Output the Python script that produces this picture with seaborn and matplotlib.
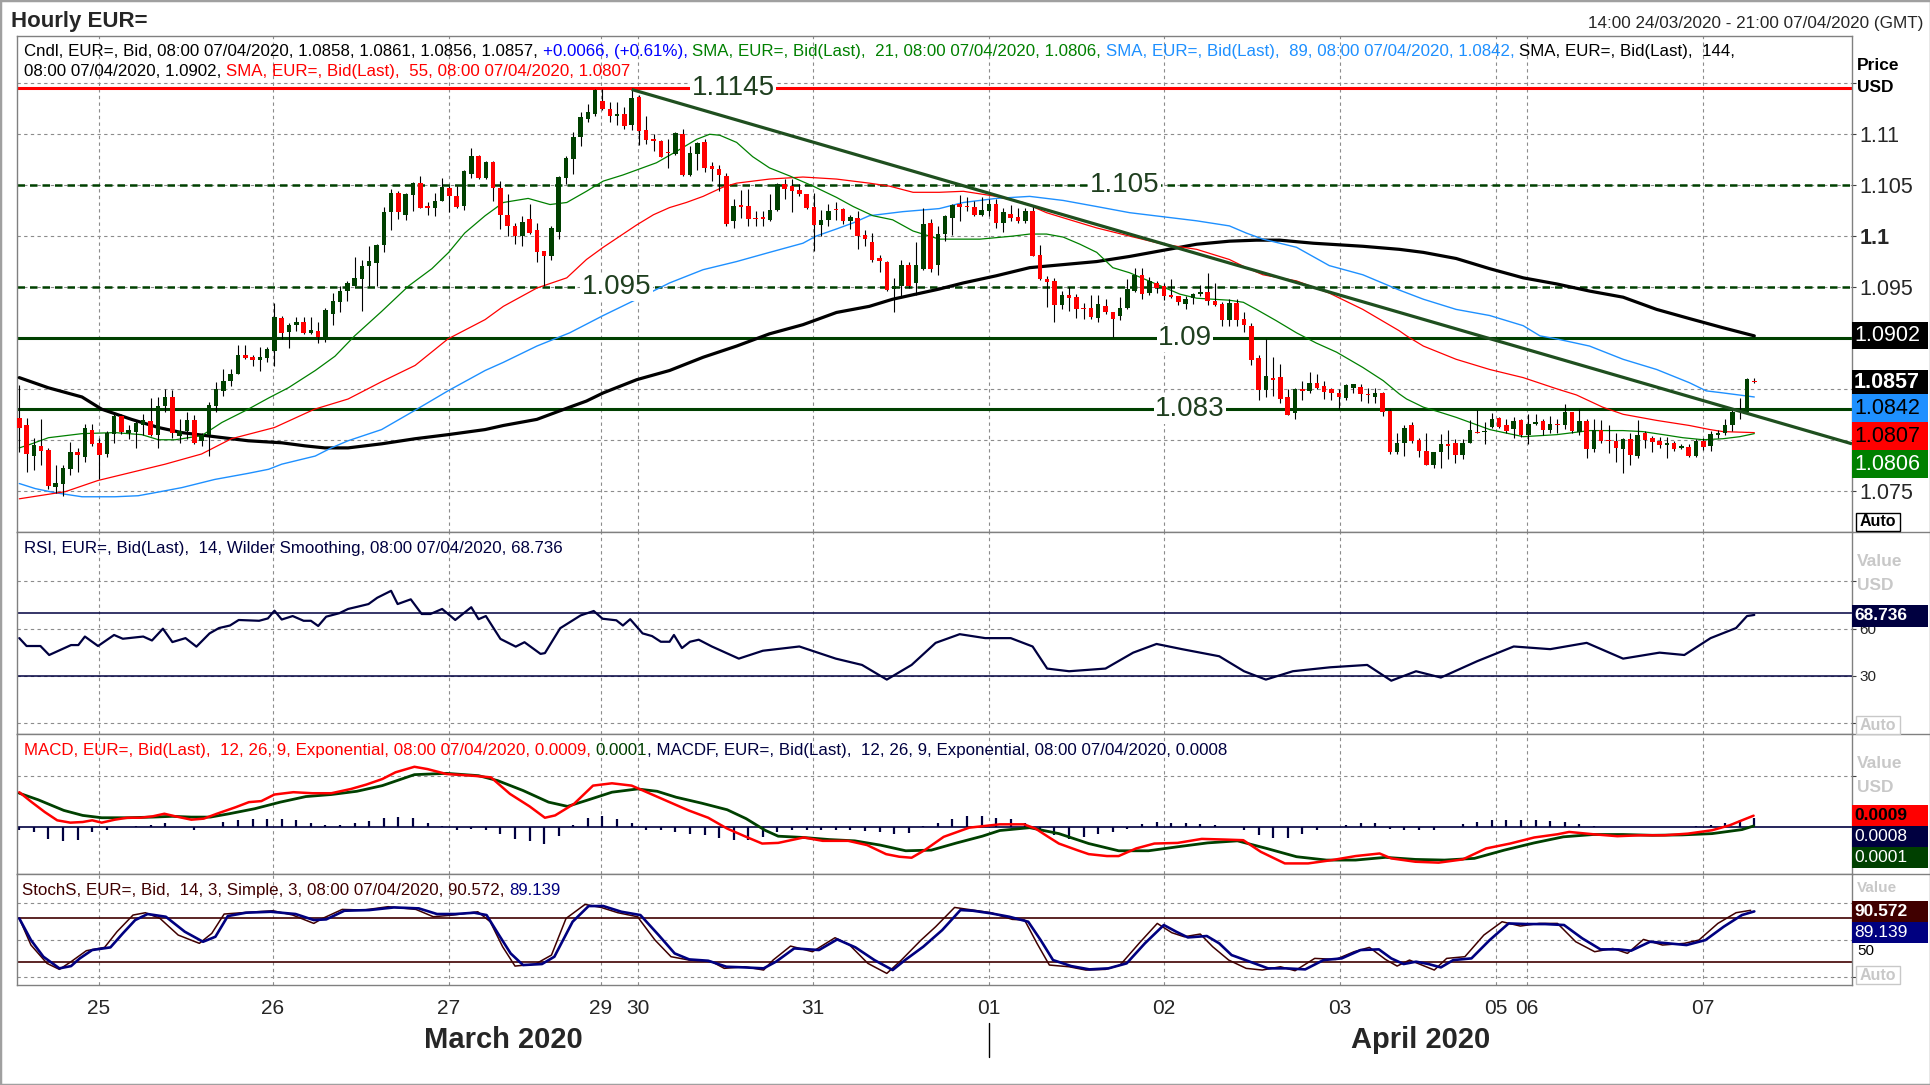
import numpy as np
import matplotlib
matplotlib.use("Agg")
import matplotlib.pyplot as plt
import seaborn as sns
from matplotlib.patches import Rectangle
from matplotlib.lines import Line2D

# ============================================
# Data (hourly EUR= candles, 14:00 24/03 .. 08:00 07/04)
# ============================================

opens = [
    1.0821, 1.0814, 1.0784, 1.0794, 1.0790, 1.0754, 1.0757, 1.0771, 1.0788, 1.0783,
    1.0810, 1.0797, 1.0786, 1.0806, 1.0823, 1.0807, 1.0808, 1.0814, 1.0818, 1.0805,
    1.0833, 1.0842, 1.0804, 1.0809, 1.0819, 1.0799, 1.0805, 1.0833, 1.0848, 1.0858,
    1.0865, 1.0883, 1.0881, 1.0878, 1.0880, 1.0887, 1.0920, 1.0906, 1.0913, 1.0916,
    1.0905, 1.0907, 1.0898, 1.0923, 1.0935, 1.0946, 1.0951, 1.0958, 1.0971, 1.0974,
    1.0991, 1.1024, 1.1042, 1.1021, 1.1040, 1.1052, 1.1030, 1.1028, 1.1034, 1.1047,
    1.1039, 1.1030, 1.1061, 1.1079, 1.1057, 1.1073, 1.1047, 1.1021, 1.1010, 1.1000,
    1.1017, 1.1006, 1.0985, 1.0980, 1.1004, 1.1057, 1.1076, 1.1097, 1.1115, 1.1120,
    1.1133, 1.1125, 1.1118, 1.1120, 1.1109, 1.1137, 1.1104, 1.1095, 1.1093, 1.1083,
    1.1081, 1.1100, 1.1060, 1.1081, 1.1092, 1.1069, 1.1066, 1.1059, 1.1015, 1.1031,
    1.1030, 1.1018, 1.1019, 1.1016, 1.1026, 1.1051, 1.1049, 1.1045, 1.1041, 1.1029,
    1.1011, 1.1016, 1.1027, 1.1027, 1.1015, 1.1018, 1.1001, 1.0994, 1.0978, 1.0975,
    1.0948, 1.0951, 1.0972, 1.0954, 1.0968, 1.1013, 1.0972, 1.1002, 1.1018, 1.1032,
    1.1030, 1.1029, 1.1021, 1.1025, 1.1032, 1.1013, 1.1022, 1.1019, 1.1015, 1.1025,
    1.0981, 1.0958, 1.0956, 1.0932, 1.0942, 1.0940, 1.0929, 1.0929, 1.0920, 1.0931,
    1.0925, 1.0922, 1.0929, 1.0946, 1.0962, 1.0944, 1.0954, 1.0951, 1.0942, 1.0941,
    1.0933, 1.0939, 1.0943, 1.0945, 1.0936, 1.0933, 1.0918, 1.0934, 1.0919, 1.0912,
    1.0880, 1.0849, 1.0861, 1.0862, 1.0842, 1.0826, 1.0850, 1.0848, 1.0856, 1.0853,
    1.0850, 1.0846, 1.0841, 1.0851, 1.0852, 1.0845, 1.0842, 1.0846, 1.0828, 1.0788,
    1.0797, 1.0814, 1.0800, 1.0789, 1.0775, 1.0788, 1.0796, 1.0797, 1.0785, 1.0797,
    1.0808, 1.0808, 1.0813, 1.0821, 1.0814, 1.0811, 1.0819, 1.0805, 1.0815, 1.0818,
    1.0810, 1.0815, 1.0814, 1.0827, 1.0808, 1.0818, 1.0791, 1.0810, 1.0800, 1.0799,
    1.0791, 1.0801, 1.0784, 1.0807, 1.0802, 1.0799, 1.0795, 1.0797, 1.0792, 1.0793,
    1.0784, 1.0799, 1.0794, 1.0805, 1.0807, 1.0814, 1.0827, 1.0827, 1.0858,
]
highs = [
    1.0854, 1.0821, 1.0802, 1.0820, 1.0792, 1.0775, 1.0775, 1.0798, 1.0792, 1.0815,
    1.0815, 1.0802, 1.0809, 1.0825, 1.0825, 1.0814, 1.0819, 1.0825, 1.0841, 1.0842,
    1.0850, 1.0849, 1.0820, 1.0827, 1.0824, 1.0807, 1.0837, 1.0857, 1.0869, 1.0869,
    1.0893, 1.0893, 1.0883, 1.0891, 1.0891, 1.0934, 1.0922, 1.0915, 1.0921, 1.0921,
    1.0921, 1.0916, 1.0929, 1.0944, 1.0951, 1.0956, 1.0979, 1.0977, 1.0990, 1.0992,
    1.1029, 1.1046, 1.1044, 1.1042, 1.1053, 1.1059, 1.1033, 1.1042, 1.1057, 1.1049,
    1.1049, 1.1065, 1.1087, 1.1080, 1.1074, 1.1074, 1.1054, 1.1041, 1.1013, 1.1020,
    1.1032, 1.1013, 1.0985, 1.1010, 1.1059, 1.1079, 1.1102, 1.1122, 1.1130, 1.1144,
    1.1144, 1.1132, 1.1132, 1.1127, 1.1144, 1.1139, 1.1118, 1.1100, 1.1094, 1.1095,
    1.1102, 1.1105, 1.1088, 1.1092, 1.1095, 1.1073, 1.1070, 1.1062, 1.1036, 1.1045,
    1.1046, 1.1025, 1.1025, 1.1041, 1.1052, 1.1056, 1.1056, 1.1051, 1.1041, 1.1042,
    1.1026, 1.1032, 1.1033, 1.1028, 1.1021, 1.1025, 1.1006, 1.1003, 1.0981, 1.0976,
    1.0959, 1.0977, 1.0975, 1.0994, 1.1028, 1.1017, 1.1010, 1.1021, 1.1032, 1.1040,
    1.1038, 1.1034, 1.1038, 1.1036, 1.1036, 1.1028, 1.1031, 1.1028, 1.1028, 1.1030,
    1.0991, 1.0961, 1.0959, 1.0946, 1.0950, 1.0943, 1.0934, 1.0942, 1.0942, 1.0938,
    1.0925, 1.0940, 1.0958, 1.0969, 1.0969, 1.0960, 1.0956, 1.0954, 1.0958, 1.0941,
    1.0941, 1.0944, 1.0952, 1.0964, 1.0954, 1.0935, 1.0938, 1.0938, 1.0925, 1.0915,
    1.0883, 1.0899, 1.0881, 1.0874, 1.0850, 1.0851, 1.0858, 1.0867, 1.0865, 1.0858,
    1.0851, 1.0850, 1.0855, 1.0855, 1.0855, 1.0851, 1.0851, 1.0847, 1.0830, 1.0807,
    1.0814, 1.0817, 1.0802, 1.0807, 1.0788, 1.0806, 1.0810, 1.0801, 1.0801, 1.0819,
    1.0829, 1.0817, 1.0826, 1.0822, 1.0820, 1.0822, 1.0820, 1.0825, 1.0825, 1.0820,
    1.0823, 1.0820, 1.0835, 1.0827, 1.0830, 1.0820, 1.0820, 1.0819, 1.0814, 1.0807,
    1.0802, 1.0807, 1.0819, 1.0809, 1.0804, 1.0803, 1.0803, 1.0799, 1.0796, 1.0796,
    1.0801, 1.0802, 1.0809, 1.0810, 1.0820, 1.0831, 1.0841, 1.0861, 1.0861,
]
lows = [
    1.0788, 1.0768, 1.0770, 1.0775, 1.0752, 1.0748, 1.0745, 1.0765, 1.0768, 1.0778,
    1.0794, 1.0761, 1.0783, 1.0797, 1.0806, 1.0801, 1.0792, 1.0805, 1.0804, 1.0792,
    1.0827, 1.0802, 1.0797, 1.0801, 1.0796, 1.0794, 1.0784, 1.0827, 1.0843, 1.0853,
    1.0865, 1.0879, 1.0872, 1.0868, 1.0876, 1.0872, 1.0899, 1.0890, 1.0907, 1.0904,
    1.0904, 1.0895, 1.0896, 1.0913, 1.0925, 1.0936, 1.0951, 1.0926, 1.0951, 1.0951,
    1.0984, 1.1006, 1.1017, 1.1016, 1.1025, 1.1028, 1.1021, 1.1020, 1.1034, 1.1024,
    1.1028, 1.1026, 1.1057, 1.1056, 1.1056, 1.1034, 1.1007, 1.1000, 1.0992, 1.0990,
    1.1002, 1.0975, 1.0951, 1.0977, 1.0997, 1.1051, 1.1061, 1.1088, 1.1112, 1.1118,
    1.1124, 1.1112, 1.1109, 1.1105, 1.1104, 1.1089, 1.1090, 1.1084, 1.1078, 1.1067,
    1.1080, 1.1059, 1.1059, 1.1065, 1.1063, 1.1054, 1.1044, 1.1010, 1.1008, 1.1018,
    1.1010, 1.1010, 1.1010, 1.1015, 1.1025, 1.1036, 1.1024, 1.1039, 1.1027, 1.0985,
    1.1000, 1.1010, 1.1016, 1.1012, 1.1007, 1.0987, 1.0990, 1.0975, 1.0965, 1.0946,
    1.0925, 1.0941, 1.0949, 1.0942, 1.0967, 1.0965, 1.0962, 1.0995, 1.1001, 1.1015,
    1.1025, 1.1020, 1.1020, 1.1020, 1.1008, 1.1004, 1.1015, 1.1013, 1.1013, 1.0980,
    1.0957, 1.0930, 1.0916, 1.0928, 1.0926, 1.0920, 1.0919, 1.0919, 1.0916, 1.0923,
    1.0901, 1.0918, 1.0928, 1.0945, 1.0938, 1.0942, 1.0944, 1.0937, 1.0939, 1.0932,
    1.0928, 1.0933, 1.0941, 1.0932, 1.0931, 1.0912, 1.0912, 1.0912, 1.0906, 1.0873,
    1.0839, 1.0842, 1.0843, 1.0836, 1.0824, 1.0820, 1.0839, 1.0846, 1.0850, 1.0840,
    1.0839, 1.0830, 1.0839, 1.0846, 1.0838, 1.0836, 1.0836, 1.0823, 1.0786, 1.0786,
    1.0784, 1.0797, 1.0783, 1.0775, 1.0772, 1.0772, 1.0781, 1.0777, 1.0781, 1.0797,
    1.0807, 1.0796, 1.0812, 1.0812, 1.0807, 1.0802, 1.0803, 1.0796, 1.0814, 1.0805,
    1.0807, 1.0807, 1.0811, 1.0807, 1.0805, 1.0782, 1.0788, 1.0797, 1.0787, 1.0778,
    1.0767, 1.0775, 1.0782, 1.0792, 1.0788, 1.0792, 1.0782, 1.0789, 1.0791, 1.0783,
    1.0783, 1.0790, 1.0789, 1.0802, 1.0805, 1.0809, 1.0820, 1.0827, 1.0856,
]
closes = [
    1.0812, 1.0786, 1.0795, 1.0789, 1.0755, 1.0758, 1.0772, 1.0788, 1.0785, 1.0812,
    1.0796, 1.0785, 1.0807, 1.0823, 1.0808, 1.0810, 1.0816, 1.0819, 1.0805, 1.0833,
    1.0842, 1.0807, 1.0809, 1.0819, 1.0797, 1.0805, 1.0834, 1.0850, 1.0858, 1.0865,
    1.0883, 1.0880, 1.0878, 1.0881, 1.0889, 1.0921, 1.0905, 1.0913, 1.0916, 1.0905,
    1.0908, 1.0901, 1.0927, 1.0936, 1.0946, 1.0954, 1.0959, 1.0971, 1.0976, 1.0991,
    1.1024, 1.1042, 1.1024, 1.1041, 1.1052, 1.1028, 1.1028, 1.1034, 1.1048, 1.1039,
    1.1029, 1.1064, 1.1079, 1.1057, 1.1073, 1.1047, 1.1021, 1.1010, 1.1000, 1.1014,
    1.1003, 1.0984, 1.0980, 1.1008, 1.1058, 1.1077, 1.1097, 1.1117, 1.1122, 1.1143,
    1.1125, 1.1118, 1.1120, 1.1108, 1.1136, 1.1103, 1.1094, 1.1093, 1.1078, 1.1082,
    1.1101, 1.1060, 1.1082, 1.1091, 1.1067, 1.1066, 1.1060, 1.1012, 1.1030, 1.1029,
    1.1017, 1.1017, 1.1017, 1.1026, 1.1051, 1.1046, 1.1044, 1.1041, 1.1028, 1.1011,
    1.1016, 1.1025, 1.1026, 1.1015, 1.1019, 1.1000, 1.0997, 1.0977, 1.0976, 1.0947,
    1.0951, 1.0972, 1.0951, 1.0972, 1.1012, 1.0968, 1.1002, 1.1020, 1.1031, 1.1029,
    1.1029, 1.1021, 1.1026, 1.1032, 1.1013, 1.1024, 1.1018, 1.1015, 1.1025, 1.0980,
    1.0958, 1.0955, 1.0932, 1.0942, 1.0939, 1.0928, 1.0928, 1.0921, 1.0933, 1.0925,
    1.0919, 1.0929, 1.0948, 1.0962, 1.0943, 1.0956, 1.0949, 1.0941, 1.0940, 1.0935,
    1.0938, 1.0943, 1.0945, 1.0936, 1.0932, 1.0918, 1.0934, 1.0918, 1.0913, 1.0878,
    1.0849, 1.0863, 1.0859, 1.0840, 1.0824, 1.0850, 1.0848, 1.0856, 1.0851, 1.0847,
    1.0846, 1.0842, 1.0854, 1.0855, 1.0845, 1.0844, 1.0846, 1.0827, 1.0788, 1.0797,
    1.0812, 1.0799, 1.0789, 1.0775, 1.0788, 1.0796, 1.0794, 1.0785, 1.0797, 1.0810,
    1.0807, 1.0809, 1.0820, 1.0813, 1.0809, 1.0818, 1.0805, 1.0815, 1.0817, 1.0810,
    1.0815, 1.0814, 1.0827, 1.0809, 1.0818, 1.0791, 1.0810, 1.0799, 1.0799, 1.0792,
    1.0801, 1.0785, 1.0805, 1.0800, 1.0798, 1.0795, 1.0797, 1.0791, 1.0794, 1.0784,
    1.0799, 1.0793, 1.0806, 1.0807, 1.0814, 1.0827, 1.0828, 1.0860, 1.0857,
]

# moving averages: (candle index, price)
sma21 = [(0, 1.0792), (1.7, 1.0796), (4.0, 1.0802), (8.6, 1.0806), (13.1, 1.0807), (16.8, 1.0805),
         (19.1, 1.0800), (21.4, 1.0800), (25.0, 1.0804), (27.8, 1.0817), (31.4, 1.0830), (34.2, 1.0841),
         (36.9, 1.0851), (40.6, 1.0868), (43.3, 1.0882), (46.0, 1.0902), (49.7, 1.0926), (53.4, 1.0951),
         (56.6, 1.0968), (58.9, 1.0984), (61.1, 1.1003), (63.9, 1.1020), (66.4, 1.1033), (69.8, 1.1037),
         (72.8, 1.1031), (75.1, 1.1033), (77.8, 1.1044), (80.1, 1.1054), (82.8, 1.1060), (85.1, 1.1066),
         (87.4, 1.1072), (90.1, 1.1083), (92.9, 1.1095), (94.7, 1.1100), (96.1, 1.1099), (98.4, 1.1092),
         (100.6, 1.1078), (102.9, 1.1067), (105.7, 1.1059), (108.9, 1.1049), (112.1, 1.1038), (114.4, 1.1029),
         (117.1, 1.1020), (119.8, 1.1016), (122.6, 1.1005), (126.2, 1.0997), (131.8, 1.0997), (136.3, 1.1000),
         (138.6, 1.1002), (140.9, 1.1002), (143.2, 1.0999), (145.5, 1.0992), (147.8, 1.0984), (150.0, 1.0969),
         (152.3, 1.0964), (156.9, 1.0950), (159.2, 1.0943), (161.5, 1.0939), (166.0, 1.0937), (167.9, 1.0935),
         (169.7, 1.0928), (172.4, 1.0917), (175.2, 1.0905), (177.9, 1.0895), (180.7, 1.0886), (184.3, 1.0871),
         (187.1, 1.0858), (189.3, 1.0845), (190.3, 1.0840), (192.6, 1.0832), (194.9, 1.0827), (197.1, 1.0822),
         (199.4, 1.0816), (201.7, 1.0810), (206.3, 1.0803), (210.9, 1.0805), (215.4, 1.0809), (220.0, 1.0809),
         (222.7, 1.0808), (225.5, 1.0805), (228.2, 1.0802), (231.0, 1.0800), (233.7, 1.0801), (236.0, 1.0803),
         (238.0, 1.0806)]
sma55 = [(0, 1.0742), (6.3, 1.0749), (10.8, 1.0760), (15.4, 1.0768), (20.0, 1.0776), (25.0, 1.0786),
         (29.1, 1.0801), (35.0, 1.0812), (40.5, 1.0830), (45.1, 1.0840), (49.7, 1.0857), (54.3, 1.0873),
         (58.8, 1.0899), (63.9, 1.0918), (66.4, 1.0931), (71.0, 1.0949), (75.1, 1.0959), (77.8, 1.0977),
         (80.1, 1.0989), (82.4, 1.1000), (84.7, 1.1011), (87.0, 1.1021), (89.2, 1.1028), (91.5, 1.1033),
         (93.8, 1.1039), (96.5, 1.1048), (98.4, 1.1052), (102.9, 1.1056), (107.5, 1.1058), (112.1, 1.1056),
         (116.6, 1.1052), (119.4, 1.1049), (122.6, 1.1043), (126.2, 1.1043), (129.5, 1.1044), (134.0, 1.1039),
         (137.7, 1.1033), (140.9, 1.1023), (144.1, 1.1016), (147.8, 1.1008), (152.3, 1.1000), (156.9, 1.0992),
         (161.5, 1.0987), (166.0, 1.0977), (168.3, 1.0969), (170.6, 1.0962), (175.2, 1.0956), (179.7, 1.0944),
         (184.3, 1.0928), (189.3, 1.0907), (190.3, 1.0902), (192.6, 1.0892), (197.1, 1.0879), (201.7, 1.0869),
         (206.3, 1.0861), (210.9, 1.0850), (213.6, 1.0844), (217.2, 1.0832), (220.0, 1.0825), (224.6, 1.0819),
         (229.1, 1.0814), (231.9, 1.0810), (233.7, 1.0808), (238.0, 1.0807)]
sma89 = [(0, 1.0757), (2.2, 1.0752), (4.9, 1.0748), (8.6, 1.0744), (13.1, 1.0744), (16.3, 1.0745),
         (18.6, 1.0748), (22.3, 1.0753), (26.8, 1.0761), (31.4, 1.0767), (34.2, 1.0771), (36.0, 1.0776),
         (40.6, 1.0784), (42.8, 1.0792), (45.1, 1.0799), (49.7, 1.0810), (54.3, 1.0829), (58.8, 1.0848),
         (63.9, 1.0868), (66.4, 1.0876), (71.0, 1.0892), (75.5, 1.0905), (80.1, 1.0922), (84.7, 1.0938),
         (89.2, 1.0954), (93.8, 1.0967), (98.4, 1.0975), (102.9, 1.0984), (107.5, 1.0993), (109.3, 1.1000),
         (112.1, 1.1007), (114.4, 1.1013), (116.6, 1.1020), (121.2, 1.1024), (126.2, 1.1027), (129.5, 1.1033),
         (134.0, 1.1037), (138.6, 1.1039), (143.2, 1.1035), (147.8, 1.1029), (152.3, 1.1023), (156.9, 1.1019),
         (161.5, 1.1015), (166.0, 1.1010), (168.3, 1.1003), (170.6, 1.0997), (175.2, 1.0989), (179.7, 1.0971),
         (184.3, 1.0962), (189.3, 1.0947), (192.6, 1.0938), (197.1, 1.0928), (201.7, 1.0922), (206.3, 1.0912),
         (208.6, 1.0902), (210.9, 1.0899), (215.4, 1.0892), (220.0, 1.0879), (224.6, 1.0869), (229.1, 1.0856),
         (231.4, 1.0848), (233.7, 1.0846), (238.0, 1.0842)]
sma144 = [(0, 1.0861), (4.0, 1.0851), (8.6, 1.0842), (11.3, 1.0830), (15.4, 1.0820), (19.1, 1.0812),
          (22.3, 1.0807), (26.8, 1.0803), (31.4, 1.0799), (36.0, 1.0797), (39.2, 1.0794), (41.9, 1.0792),
          (45.1, 1.0792), (49.7, 1.0796), (54.3, 1.0801), (58.8, 1.0805), (63.9, 1.0810), (66.4, 1.0814),
          (71.0, 1.0820), (75.5, 1.0832), (77.8, 1.0838), (80.1, 1.0846), (84.7, 1.0859), (89.2, 1.0868),
          (93.8, 1.0881), (98.4, 1.0892), (102.9, 1.0904), (107.5, 1.0913), (112.1, 1.0925), (116.6, 1.0931),
          (119.8, 1.0938), (123.0, 1.0943), (126.2, 1.0948), (129.5, 1.0954), (134.0, 1.0961), (138.6, 1.0969),
          (143.2, 1.0972), (147.8, 1.0975), (152.3, 1.0980), (156.9, 1.0986), (161.5, 1.0992), (166.0, 1.0995),
          (169.7, 1.0996), (172.9, 1.0996), (177.5, 1.0993), (184.3, 1.0990), (189.3, 1.0987), (192.6, 1.0984),
          (197.1, 1.0978), (201.7, 1.0968), (206.3, 1.0959), (210.9, 1.0953), (215.4, 1.0946), (220.0, 1.0940),
          (224.6, 1.0928), (229.1, 1.0919), (233.7, 1.0910), (238.0, 1.0902)]

trend_line = [(84, 1.1144), (251.4, 1.0796)]
level_red = 1.1145
levels_solid = [1.09, 1.083]
levels_dashed = [1.105, 1.095]
level_text = [("1.1145", 97.9, 1.1145), ("1.105", 151.6, 1.105), ("1.095", 81.9, 1.095),
              ("1.09", 159.9, 1.09), ("1.083", 160.6, 1.083)]

# RSI (14)
rsi = [(0, 54), (1.0, 49), (2.9, 49), (4.1, 43.3), (7.1, 49.6), (8.1, 49.6), (9.0, 55), (10.8, 49),
       (13.0, 56), (14.2, 53.6), (17.0, 55), (18.2, 52.5), (19.7, 60), (21.0, 51.5), (22.8, 54), (24.3, 48.6),
       (26.1, 57), (27.4, 60.4), (28.9, 62), (30.1, 65.5), (32.9, 65), (34.1, 66.5), (35.0, 71.4), (36.0, 65.8),
       (37.5, 68), (39.0, 65), (40.0, 65), (41.0, 61.7), (42.1, 67.6), (43.9, 69.8), (45.1, 72.5), (46.3, 73.8),
       (47.9, 75.6), (49.1, 79.6), (51.0, 84), (51.9, 75.6), (53.7, 78.6), (55.2, 69.3), (56.4, 69.3), (58.0, 72.5),
       (59.8, 65.5), (62.0, 73.6), (63.0, 66), (64.0, 68), (66.0, 53.5), (68.1, 48.6), (69.3, 51.4), (71.5, 44),
       (72.1, 44.5), (74.2, 60.3), (77.0, 68.4), (78.8, 71.2), (80.0, 66.3), (81.9, 65.3), (82.8, 62), (83.8, 66),
       (85.5, 57), (86.8, 55.3), (88.0, 51.7), (89.2, 51.7), (89.8, 56), (90.9, 47.7), (92.0, 51.7), (93.2, 53),
       (95, 48.7), (98.7, 41), (102, 46), (107, 48.7), (112, 41), (115.6, 37), (119, 27.7), (122.4, 37),
       (125.7, 51), (129, 56.5), (132.5, 54), (136, 54), (139, 48.7), (141, 34.7), (144, 33), (149, 34.7),
       (152.8, 44.8), (156, 50.3), (159.5, 47), (164.6, 42.5), (168, 33), (171, 27.7), (174.7, 33), (179.8, 35.5),
       (184.9, 37), (188.2, 27), (191.6, 33), (195, 29), (200, 39.4), (205, 48.7), (210, 47), (215, 51),
       (220, 41), (225, 44.8), (228.4, 43.3), (232, 54), (235.5, 60.4), (237, 68), (238, 68.7)]

# MACD (12, 26, 9) in units of 1e-4
macd = [(0, 27.2), (1.7, 19.5), (3.5, 11.8), (5.2, 5.4), (7.0, 3.6), (8.7, 4.1), (10.0, 5.4), (11.3, 3.6),
        (13.1, 5.9), (14.8, 7.4), (16.6, 7.4), (18.3, 8.5), (19.9, 10.5), (21.4, 8.5), (23.6, 5.9), (25.3, 6.7),
        (27.1, 10.5), (29.7, 15.6), (31.5, 19.5), (33.2, 20.3), (35.0, 25.4), (37.6, 27.2), (40.2, 26.4),
        (42.8, 26.4), (45.5, 29.7), (47.6, 33.1), (49.8, 37.4), (51.6, 42.6), (54.2, 46.9), (56.0, 45.1),
        (58.6, 41.3), (62.1, 40.0), (64.7, 38.7), (67.3, 25.9), (70.0, 16.2), (72.1, 7.4), (73.5, 9.2),
        (76.1, 18.2), (78.7, 32.3), (81.3, 34.1), (84.0, 32.3), (86.6, 25.9), (89.2, 19.5), (91.8, 13.1),
        (94.5, 7.4), (97.1, -1.0), (99.7, -7.4), (101.9, -12.6), (104.1, -12.1), (107.6, -7.9), (110.2, -10.5),
        (113.7, -10.5), (116.3, -13.8), (118.9, -20.8), (120.7, -22.8), (122.4, -23.6), (124.2, -17.7),
        (126.8, -7.4), (130.3, -0.3), (134.5, 2.3), (137.8, 2.3), (139.4, -1.0), (141.0, -6.9), (142.6, -12.6),
        (145.1, -17.7), (146.7, -20.8), (149.2, -22.3), (150.8, -22.3), (153.2, -16.4), (155.7, -12.6),
        (158.9, -12.1), (162.2, -9.0), (165.4, -9.5), (167.9, -10.0), (170.3, -19.0), (173.6, -28.0),
        (176.8, -28.0), (180.1, -25.4), (183.3, -22.3), (186.6, -20.3), (188.2, -24.1), (191.5, -26.7),
        (194.7, -27.4), (198.0, -24.9), (201.2, -16.4), (204.5, -12.6), (207.8, -7.9), (211.0, -5.4),
        (212.6, -3.6), (215.9, -5.4), (219.2, -6.9), (222.4, -6.2), (225.7, -6.2), (228.9, -4.9), (232.2, -2.3),
        (234.6, 1.5), (236.3, 5.4), (237.9, 9.0)]
signal = [(0, 26.4), (2.6, 21.3), (6.1, 13.1), (8.7, 9.2), (11.3, 7.4), (14.8, 7.4), (18.3, 7.9), (21.0, 8.5),
          (23.6, 7.9), (26.2, 7.9), (28.8, 10.5), (32.3, 14.4), (35.8, 19.5), (39.3, 23.8), (42.8, 25.4),
          (46.3, 27.9), (49.8, 32.3), (54.2, 40.8), (58.6, 41.8), (63.0, 40.0), (65.6, 36.2), (69.1, 28.5),
          (72.6, 19.5), (75.2, 16.2), (77.8, 20.8), (81.3, 27.2), (84.8, 29.7), (87.5, 27.9), (90.1, 23.3),
          (93.6, 18.7), (97.1, 13.6), (99.7, 6.7), (102.3, -2.3), (104.1, -6.9), (107.6, -7.9), (111.1, -9.5),
          (114.6, -10.5), (118.1, -13.8), (121.6, -18.2), (125.1, -17.7), (128.6, -12.1), (132.1, -6.9),
          (134.5, -2.5), (138.6, -0.3), (142.6, -4.9), (146.7, -12.6), (150.8, -18.2), (154.9, -18.2),
          (158.9, -15.1), (163.0, -12.1), (167.1, -10.5), (171.1, -16.4), (175.2, -22.8), (179.3, -25.4),
          (183.3, -25.4), (187.4, -23.3), (191.5, -24.9), (195.5, -25.4), (199.6, -24.1), (203.7, -17.7),
          (207.8, -12.1), (211.8, -7.4), (215.9, -5.6), (220.0, -5.6), (224.0, -6.2), (228.1, -5.9),
          (232.2, -4.9), (236.3, -1.8), (237.9, 1.0)]
hist_vals = [-2, -4, -9, -11, -10, -4, -2, 0, 1, 1.5,
             3, 0, -2, 0, 4, 6, 6.5, 6.5, 6.5, 5.5,
             3, 1.5, 2, 3.5, 5, 7.5, 8, 7.5, 3.5, 1,
             -2, -1, -2, -5, -9, -11, -13, -7, 2, 7.5,
             9, 6.5, 3.5, -2, -2, -3.5, -5, -6, -8, -10,
             -9.5, -7.5, -3.5, -2, -2, -2, -2, -2, -3, -3.5,
             -5, -4.5, 1, 3, 6.5, 8.5, 8.5, 7.5, 6.5, 3.5,
             -2, -6, -9, -7.5, -5.5, -3.5, -1, 2.5, 4, 3.5,
             3, 2.5, 1.5, 0.5, -2, -6, -8, -8.5, -5, -2,
             0, 1.5, 3, 3, -1, -2, -2, -2, 0, 2.5,
             4, 6, 6, 6, 5.5, 5, 4, 2.5, 1, 0.5,
             0.5, 0, 0.5, 0, 0, 1, 1.5, 3, 5.5, 7.5]
hist_idx = list(range(0, 240, 2))

# Slow stochastics (14, 3, 3)
stoch_k = [(0, 79.5), (1.6, 43.2), (3.8, 18.2), (5.5, 10), (7.1, 20.5), (9.2, 35.5), (11.7, 40), (13.4, 61.4),
           (15.6, 84.1), (17.3, 87.3), (19.3, 79.5), (21.8, 56.8), (24.7, 45.5), (26.4, 59.1), (28.1, 85.5),
           (31.1, 87.7), (34.8, 90), (37.5, 84.1), (40.4, 72.7), (41.6, 79.5), (44.3, 91.8), (47.2, 90.9),
           (50.6, 95.5), (54.4, 91.8), (56.8, 81.8), (59.5, 84.1), (62.9, 88.6), (64.6, 75), (66.3, 40.9),
           (68.0, 14.5), (70.8, 17.3), (73.0, 29.5), (75.0, 79.5), (77.6, 98.6), (79.8, 94.5), (82.1, 87.3),
           (84.8, 81.8), (87.2, 50), (89.4, 27.3), (91.9, 22.7), (95.0, 20.5), (96.7, 11.4), (99.5, 13.6),
           (102.1, 9.1), (103.4, 22.7), (105.8, 41.8), (108.8, 34.1), (111.9, 53.2), (113.9, 43.2), (116.4, 18.2),
           (119.0, 4.5), (121.0, 22.7), (123.7, 50), (125.7, 68.2), (128.3, 94.5), (130.8, 90.9), (133.3, 87.3),
           (136.2, 78.2), (137.9, 77.3), (139.6, 45.5), (141.3, 15.9), (144.0, 13.6), (146.3, 9.1), (149.0, 10),
           (151.0, 15.9), (153.6, 45.5), (156.1, 72.7), (158.1, 60), (159.8, 54.5), (162.0, 58.2), (163.7, 40.9),
           (165.9, 22.7), (168.3, 11.4), (170.5, 9.1), (173.0, 13.6), (175.0, 8.2), (177.7, 25), (180.6, 23.6),
           (183.1, 34.1), (185.2, 40), (187.4, 23.6), (189.0, 14.5), (190.7, 22.7), (192.4, 15.9), (194.1, 9.1),
           (195.8, 25), (198.3, 27.3), (200.9, 56.8), (203.4, 75), (205.9, 69.1), (208.5, 72.7), (211.0, 72.7),
           (213.5, 47.7), (216.1, 34.1), (218.6, 38.6), (220.6, 31.8), (222.8, 50.9), (225.4, 43.2), (228.4, 45.5),
           (230.4, 50), (233.0, 72.7), (235.5, 87.3), (237.5, 90.6)]
stoch_d = [(0, 79.5), (1.6, 50), (3.3, 27.3), (5.5, 11.4), (7.1, 14.5), (8.3, 25), (10.0, 36.4), (12.5, 40),
           (14.2, 59.1), (15.9, 77.3), (17.6, 85.5), (20.1, 81.8), (22.7, 61.4), (25.2, 47.7), (26.9, 54.5),
           (28.6, 82.7), (31.1, 87.3), (34.5, 88.6), (37.9, 85.5), (40.4, 77.3), (42.1, 78.2), (44.6, 90),
           (48.0, 90.9), (51.4, 94.5), (54.8, 93.2), (57.3, 85.5), (59.8, 85.5), (62.4, 87.3), (64.1, 84.1),
           (65.8, 56.8), (67.4, 31.8), (69.1, 15.9), (71.7, 17.3), (73.4, 27.3), (75.9, 75), (78.1, 96.4),
           (80.1, 96.4), (82.6, 88.6), (85.2, 84.1), (87.7, 56.8), (89.9, 31.8), (91.9, 23.6), (94.5, 21.8),
           (97.0, 13.6), (99.5, 12.7), (102.1, 11.4), (103.8, 20.5), (106.3, 38.6), (109.7, 36.4), (112.2, 50.9),
           (114.7, 40), (117.3, 22.7), (119.8, 9.1), (121.5, 22.7), (124.0, 40.9), (126.6, 63.6), (129.1, 90.9),
           (130.8, 90), (133.3, 86.4), (135.8, 81.8), (138.4, 75), (140.1, 50), (141.8, 22.7), (144.3, 14.5),
           (146.8, 10), (149.4, 11.4), (151.9, 18.2), (154.4, 45.5), (157.0, 70.5), (158.7, 61.4), (160.3, 53.6),
           (162.9, 55.5), (164.6, 45.5), (166.3, 29.5), (168.8, 20.5), (171.3, 11.4), (173.8, 11.4), (176.4, 10),
           (178.9, 22.7), (181.4, 25), (184.0, 36.4), (186.5, 37.3), (188.2, 25), (189.9, 17.3), (191.6, 20.5),
           (193.3, 17.3), (195.0, 12.7), (196.7, 22.7), (199.2, 25), (201.7, 50), (204.3, 72.7), (206.8, 71.8),
           (209.3, 71.8), (211.9, 70.5), (214.4, 52.3), (216.9, 37.3), (219.4, 37.3), (221.1, 35.5), (223.7, 47.7),
           (226.2, 45.5), (228.7, 43.2), (231.3, 50), (233.8, 68.2), (236.3, 84.1), (238.0, 89.1)]

day_ticks = [10.9, 34.8, 58.9, 79.8, 84.9, 108.9, 133.0, 157.0, 181.2, 202.6, 206.8, 230.9]
day_labels = ["25", "26", "27", "29", "30", "31", "01", "02", "03", "05", "06", "07"]
month_labels = ["March 2020", "April 2020"]

price_ticks = [1.075, 1.08, 1.085, 1.09, 1.095, 1.1, 1.105, 1.11, 1.115]
price_tick_labels = ["1.075", "", "", "", "1.095", "1.1", "1.105", "1.11", ""]

# ============================================
# Figure layout (pixel based)
# ============================================

W, H = 1931, 1085
sns.set_style("white")
plt.rcParams["font.family"] = ["Liberation Sans", "DejaVu Sans"]

fig = plt.figure(figsize=(W / 100, H / 100), dpi=100)
fig.patch.set_facecolor("white")
rend = fig.canvas.get_renderer()

GRID = "#8c8c8c"
NAVY = "#000040"
DKGREEN = "#004000"
GREY_TXT = "#c8c8c8"


def fx(px):
    return px / W


def fy(py):
    return 1 - py / H


def panel(top, bottom):
    ax = fig.add_axes([fx(17), fy(bottom), (1852 - 17) / W, (bottom - top) / H])
    ax.set_facecolor("white")
    ax.set_xticks(day_ticks)
    ax.set_xticklabels([])
    ax.tick_params(axis="x", length=0)
    ax.yaxis.tick_right()
    ax.tick_params(axis="y", direction="out", length=3, width=0.8, color="#404040", pad=2.5)
    ax.grid(True, color=GRID, ls=(0, (3, 3)), lw=0.8)
    ax.set_axisbelow(True)
    for sp in ax.spines.values():
        sp.set_color("#808080")
        sp.set_linewidth(1)
    return ax


def width_px(s, size, weight="normal"):
    t = fig.text(0, 0, s, fontsize=size, fontweight=weight)
    w = t.get_window_extent(renderer=rend).width
    t.remove()
    return w


def colored_text(x_px, base_px, parts, size=12.2, weight="normal"):
    ref = width_px("X", size, weight)
    done = ""
    for s, col in parts:
        off = width_px(done + "X", size, weight) - ref if done else 0.0
        fig.text(fx(x_px + off), fy(base_px), s, color=col, fontsize=size,
                 fontweight=weight, ha="left", va="baseline")
        done += s


def value_box(y0, y1, label, face, tcol, bold=False, size=15.5):
    fig.add_artist(Rectangle((fx(1852), fy(y1)), 76 / W, (y1 - y0) / H,
                             transform=fig.transFigure, facecolor=face, edgecolor="none", zorder=5))
    fig.text(fx(1854), fy((y0 + y1) / 2), label, color=tcol, fontsize=size,
             fontweight="bold" if bold else "normal", ha="left", va="center", zorder=6)


def auto_box(yc, col):
    fig.add_artist(Rectangle((fx(1856), fy(yc + 9)), 44 / W, 18 / H, transform=fig.transFigure,
                             facecolor="white", edgecolor=col, lw=1, zorder=5))
    fig.text(fx(1878), fy(yc), "Auto", color=col, fontsize=11.5, fontweight="bold",
             ha="center", va="center", zorder=6)


def side_text(y, s, col="black", size=12.5, bold=True):
    fig.text(fx(1857), fy(y), s, fontsize=size, fontweight="bold" if bold else "normal",
             color=col, va="center", ha="left")


def pairs(p):
    t, v = zip(*p)
    return list(t), list(v)


xlim = (-0.315, 251.4)

# ============================================
# Price panel
# ============================================

ax1 = panel(36, 532)
idx = np.arange(len(closes))
o = np.array(opens)
c = np.array(closes)
up = c >= o

for lv in levels_solid:
    ax1.axhline(lv, color=DKGREEN, lw=2.2, zorder=2)
for lv in levels_dashed:
    ax1.axhline(lv, color=DKGREEN, lw=1.8, ls=(0, (3, 2)), zorder=2)
ax1.axhline(level_red, color="#ff0000", lw=2.2, zorder=2)

for data, col, lw in [(sma144, "black", 2.3), (sma89, "#1e90ff", 1.0),
                      (sma55, "#ff0000", 0.9), (sma21, "#008000", 0.9)]:
    t, v = pairs(data)
    sns.lineplot(x=t, y=v, ax=ax1, color=col, lw=lw, sort=False, zorder=3)

ax1.vlines(idx, lows, highs, color="black", lw=0.8, zorder=4)
ax1.bar(idx, np.maximum(np.abs(c - o), 0.00004), bottom=np.minimum(o, c), width=0.62,
        color=np.where(up, "#004000", "#ff0000"), linewidth=0, zorder=5)

tx, tv = pairs(trend_line)
ax1.plot(tx, tv, color="#1f4f1f", lw=2.3, zorder=6, solid_capstyle="butt")

for s, xi, lv in level_text:
    ax1.text(xi, lv, s, ha="center", va="center", fontsize=20, color="#1f3f1f", zorder=7,
             bbox=dict(facecolor="white", edgecolor="none", pad=1.0))

ax1.set_xlim(*xlim)
ax1.set_ylim(1.07094, 1.11965)
ax1.set_yticks(price_ticks)
ax1.set_yticklabels(price_tick_labels, fontsize=15.5)
for lab in ax1.get_yticklabels():
    if lab.get_text() == "1.1":
        lab.set_fontweight("bold")
ax1.set_xlabel("")
ax1.set_ylabel("")

# ============================================
# RSI panel
# ============================================

ax2 = panel(532, 734)
ax2.axhline(70, color=NAVY, lw=1.1, zorder=2)
ax2.axhline(30, color=NAVY, lw=1.1, zorder=2)
t, v = pairs(rsi)
sns.lineplot(x=t, y=v, ax=ax2, color=NAVY, lw=1.6, sort=False, zorder=3)
ax2.set_xlim(*xlim)
ax2.set_ylim(-6.8, 121.3)
ax2.set_yticks([0, 30, 60, 90])
ax2.set_yticklabels(["", "30", "60", ""], fontsize=11)
ax2.set_xlabel("")
ax2.set_ylabel("")

# ============================================
# MACD panel
# ============================================

ax3 = panel(734, 874)
ax3.axhline(0, color=NAVY, lw=1.2, zorder=2)
ax3.vlines(hist_idx, 0, np.array(hist_vals) * 1e-4, color=NAVY, lw=1.6, zorder=2)
t, v = pairs(signal)
sns.lineplot(x=t, y=np.array(v) * 1e-4, ax=ax3, color=DKGREEN, lw=2.0, sort=False, zorder=3)
t, v = pairs(macd)
sns.lineplot(x=t, y=np.array(v) * 1e-4, ax=ax3, color="#ff0000", lw=1.8, sort=False, zorder=4)
ax3.set_xlim(*xlim)
ax3.set_ylim(-0.00362, 0.00723)
ax3.set_yticks([0.004])
ax3.set_yticklabels([""])
ax3.set_xlabel("")
ax3.set_ylabel("")

# ============================================
# Stochastics panel
# ============================================

ax4 = panel(874, 985)
ax4.axhline(80, color="#400000", lw=1.2, zorder=2)
ax4.axhline(20, color="#400000", lw=1.2, zorder=2)
t, v = pairs(stoch_k)
sns.lineplot(x=t, y=v, ax=ax4, color="#400000", lw=1.1, sort=False, zorder=3)
t, v = pairs(stoch_d)
sns.lineplot(x=t, y=v, ax=ax4, color="#000080", lw=1.9, sort=False, zorder=4)
ax4.set_xlim(*xlim)
ax4.set_ylim(-11.3, 140.1)
ax4.set_yticks([0, 50, 100])
ax4.set_yticklabels(["", "", ""])
ax4.set_xticklabels(day_labels, fontsize=15)
ax4.tick_params(axis="x", length=0, pad=10)
ax4.set_xlabel("")
ax4.set_ylabel("")

fig.text(fx(503), fy(1040), month_labels[0], fontsize=21, fontweight="bold", ha="center", va="center")
fig.text(fx(1421), fy(1040), month_labels[1], fontsize=21, fontweight="bold", ha="center", va="center")
fig.add_artist(Line2D([fx(989), fx(989)], [fy(1023), fy(1057)], color="black", lw=1))

# ============================================
# Right column labels / value boxes
# ============================================

for yy in [532, 734, 874]:
    fig.add_artist(Line2D([fx(1852), fx(1931)], [fy(yy), fy(yy)], color="#808080", lw=1))

side_text(65, "Price")
side_text(87, "USD")
value_box(322, 349, "1.0902", "black", "white")
value_box(370, 394, "1.0857", "black", "white", bold=True)
value_box(394, 422, "1.0842", "#1e90ff", "black")
value_box(422, 450, "1.0807", "#ff0000", "black")
value_box(450, 478, "1.0806", "#008000", "white")
auto_box(522, "black")

side_text(562, "Value", GREY_TXT)
side_text(585, "USD", GREY_TXT)
value_box(605, 627, "68.736", NAVY, "white", bold=True, size=12.5)
auto_box(725, GREY_TXT)

side_text(763, "Value", GREY_TXT)
side_text(787, "USD", GREY_TXT)
value_box(805, 826, "0.0009", "#ff0000", "black", bold=True, size=12.5)
value_box(826, 847, "0.0008", NAVY, "white", size=12.5)
value_box(847, 868, "0.0001", DKGREEN, "white", size=12.5)

side_text(888, "Value", GREY_TXT, size=11)
value_box(901, 922, "90.572", "#400000", "white", bold=True, size=12.5)
value_box(922, 943, "89.139", "#000080", "white", size=12.5)
side_text(951, "50", "black", size=11, bold=False)
auto_box(975, GREY_TXT)

# ============================================
# Header texts
# ============================================

fig.text(fx(11), fy(27), "Hourly EUR=", fontsize=16, fontweight="bold", ha="left", va="baseline")
fig.text(fx(1923), fy(28), "14:00 24/03/2020 - 21:00 07/04/2020 (GMT)", fontsize=12.3,
         ha="right", va="baseline")

colored_text(24, 56, [
    ("Cndl, EUR=, Bid, 08:00 07/04/2020, 1.0858, 1.0861, 1.0856, 1.0857, ", "black"),
    ("+0.0066, (+0.61%), ", "#0000ff"),
    ("SMA, EUR=, Bid(Last),  21, 08:00 07/04/2020, 1.0806, ", "#008000"),
    ("SMA, EUR=, Bid(Last),  89, 08:00 07/04/2020, 1.0842, ", "#1e90ff"),
    ("SMA, EUR=, Bid(Last),  144,", "black"),
])
colored_text(24, 76, [
    ("08:00 07/04/2020, 1.0902, ", "black"),
    ("SMA, EUR=, Bid(Last),  55, 08:00 07/04/2020, 1.0807", "#ff0000"),
])
colored_text(24, 553, [
    ("RSI, EUR=, Bid(Last),  14, Wilder Smoothing, 08:00 07/04/2020, 68.736", NAVY),
])
colored_text(24, 755, [
    ("MACD, EUR=, Bid(Last),  12, 26, 9, Exponential, 08:00 07/04/2020, 0.0009, ", "#ff0000"),
    ("0.0001", DKGREEN),
    (", MACDF, EUR=, Bid(Last),  12, 26, 9, Exponential, 08:00 07/04/2020, 0.0008", NAVY),
])
colored_text(22, 895, [
    ("StochS, EUR=, Bid,  14, 3, Simple, 3, 08:00 07/04/2020, 90.572, ", "#400000"),
    ("89.139", "#000080"),
])

# outer frame
fig.add_artist(Rectangle((0, 0), 1, 1, transform=fig.transFigure, fill=False,
                         edgecolor="#a0a0a0", lw=2.5))

fig.savefig("out.png", dpi=100, facecolor="white")
